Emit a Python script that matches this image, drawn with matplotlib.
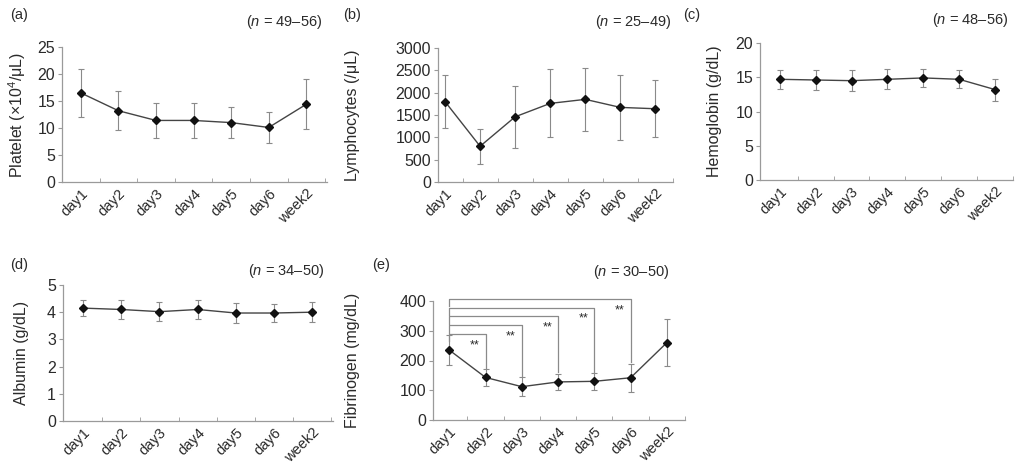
import matplotlib

matplotlib.use("Agg")
import matplotlib.pyplot as plt

plt.rcParams["font.family"] = ["Liberation Sans", "DejaVu Sans"]
plt.rcParams["mathtext.fontset"] = "custom"
plt.rcParams["mathtext.rm"] = "Liberation Sans"
plt.rcParams["mathtext.it"] = "Liberation Sans:italic"

W, H = 1015, 466
INK, AXIS, ERR = "#2a2a2a", "#9a9a9a", "#8a8a8a"

days = ["day1", "day2", "day3", "day4", "day5", "day6", "week2"]

platelet_mean = [16.5, 13.2, 11.4, 11.4, 11.0, 10.1, 14.4]
platelet_sd = [4.5, 3.6, 3.2, 3.2, 2.9, 2.8, 4.6]
lymph_mean = [1800, 800, 1460, 1760, 1850, 1670, 1640]
lymph_sd = [600, 390, 700, 760, 710, 730, 640]
hb_mean = [14.7, 14.6, 14.5, 14.7, 14.9, 14.7, 13.2]
hb_sd = [1.35, 1.4, 1.5, 1.45, 1.35, 1.3, 1.6]
alb_mean = [4.15, 4.10, 4.02, 4.10, 3.97, 3.97, 4.00]
alb_sd = [0.30, 0.35, 0.35, 0.35, 0.37, 0.33, 0.37]
fib_mean = [235, 143, 112, 128, 130, 142, 260]
fib_sd = [50, 28, 32, 28, 28, 47, 78]

# significance brackets in (e): day1 vs day2..day6
sig_targets = [1, 2, 3, 4, 5]
sig_heights = [290, 318, 348, 378, 407]

# (tag, n-range, ylabel, mean, sd, ymax, ystep,
#  axes box in px [left, top, right, bottom], xlim, tag xy, n xy, ylabel x)
panels = [
    ("(a)", "49–56", "Platelet (×10$^4$/μL)", platelet_mean, platelet_sd, 25, 5,
     (62, 47, 327, 182), (-0.5, 6.55), (10, 15), (322, 22), 17),
    ("(b)", "25–49", "Lymphocytes (/μL)", lymph_mean, lymph_sd, 3000, 500,
     (438, 48, 673, 182), (-0.2, 6.4), (343, 15), (671, 22), 352),
    ("(c)", "48–56", "Hemoglobin (g/dL)", hb_mean, hb_sd, 20, 5,
     (760, 43, 1013, 180), (-0.55, 6.4), (683, 15), (1008, 20), 714),
    ("(d)", "34–50", "Albumin (g/dL)", alb_mean, alb_sd, 5, 1,
     (63, 285, 333, 421), (-0.53, 6.55), (10, 265), (324, 271), 22),
    ("(e)", "30–50", "Fibrinogen (mg/dL)", fib_mean, fib_sd, 400, 100,
     (433, 301, 685, 420), (-0.45, 6.5), (372, 265), (669, 272), 352),
]

fig = plt.figure(figsize=(W / 100, H / 100), dpi=100, facecolor="white")

axes = []
for tag, nr, ylab, mean, sd, ymax, ystep, box, xlim, tag_xy, n_xy, ylab_x in panels:
    l, t, r, b = box
    ax = fig.add_axes([l / W, 1 - b / H, (r - l) / W, (b - t) / H])
    x = list(range(len(days)))
    ax.errorbar(x, mean, yerr=sd, fmt="none", ecolor=ERR, elinewidth=0.8,
                capsize=2, capthick=0.8, zorder=2)
    ax.plot(x, mean, color="#444444", linewidth=1.0, marker="D", markersize=4.5,
            markerfacecolor="#111111", markeredgecolor="#111111", zorder=3)
    ax.set_xlim(*xlim)
    ax.set_ylim(0, ymax)
    ax.set_yticks(range(0, ymax + 1, ystep))
    ax.set_xticks(x)
    ax.set_xticklabels(days, rotation=45, ha="right", va="top",
                       rotation_mode="anchor", fontsize=10.5, color=INK)
    ax.tick_params(axis="x", length=0, pad=3)
    ax.set_xticks([i + 0.5 for i in x], minor=True)
    ax.tick_params(axis="x", which="minor", direction="in", length=3, color=AXIS)
    ax.tick_params(axis="y", length=3, color=AXIS, labelsize=11.5, labelcolor=INK, pad=2)
    for s in ("top", "right"):
        ax.spines[s].set_visible(False)
    for s in ("left", "bottom"):
        ax.spines[s].set_color(AXIS)
        ax.spines[s].set_linewidth(0.9)
    fig.text(tag_xy[0] / W, 1 - tag_xy[1] / H, tag, fontsize=10.5, color=INK,
             ha="left", va="center")
    fig.text(n_xy[0] / W, 1 - n_xy[1] / H, f"($n$ = {nr})", fontsize=10.5,
             color=INK, ha="right", va="center")
    fig.text(ylab_x / W, 1 - (t + b) / 2 / H, ylab, rotation=90, fontsize=11.5,
             color=INK, ha="center", va="center")
    axes.append(ax)

# brackets with ** in panel (e)
ax_e = axes[4]
for k, h in zip(sig_targets, sig_heights):
    leg_end = fib_mean[k] + fib_sd[k] + 5
    ax_e.plot([0, 0, k, k], [h - 25, h, h, leg_end], color=ERR,
              linewidth=0.9, clip_on=False, zorder=1)
    ax_e.text(k - 0.3, h - 38, "**", fontsize=9, color=INK, ha="center",
              va="center")

fig.savefig("out.png", dpi=100, facecolor="white")
